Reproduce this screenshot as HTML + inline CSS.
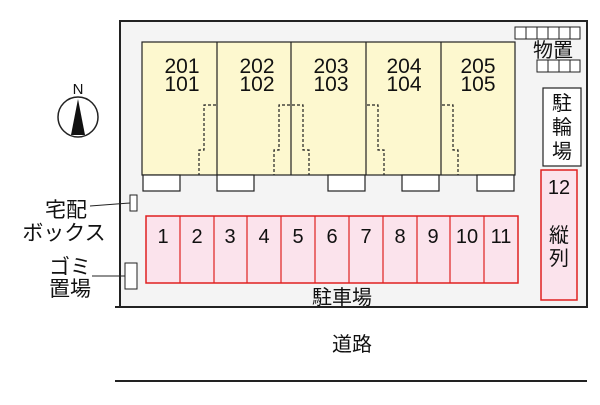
<!DOCTYPE html>
<html><head><meta charset="utf-8"><style>
body{margin:0;background:#fff}
svg text{font-family:"Liberation Sans","Noto Sans CJK JP",sans-serif;fill:#111}
</style></head><body>
<svg width="600" height="400" viewBox="0 0 600 400" xmlns="http://www.w3.org/2000/svg">
<rect x="120" y="21" width="467" height="286" fill="#f4f4f4" stroke="#222" stroke-width="2"/>
<line x1="115" y1="307" x2="587" y2="307" stroke="#222" stroke-width="2"/>
<line x1="115" y1="381" x2="587" y2="381" stroke="#222" stroke-width="2"/>
<rect x="142" y="42" width="373" height="133" fill="#fdf8cf" stroke="#222" stroke-width="1.2"/>
<g stroke="#222" stroke-width="1.2">
<line x1="217" y1="42" x2="217" y2="175"/><line x1="291" y1="42" x2="291" y2="175"/>
<line x1="366" y1="42" x2="366" y2="175"/><line x1="441" y1="42" x2="441" y2="175"/>
</g>
<g fill="none" stroke="#222" stroke-width="1.2" stroke-dasharray="3,2">
<path d="M216 105H204V150H199V175"/>
<path d="M290 105H279V150H274V175"/>
<path d="M292 105H303V150H309V175"/>
<path d="M367 105H378V150H384V175"/>
<path d="M442 105H453V150H458V175"/>
</g>
<g fill="#fff" stroke="#222" stroke-width="1.2">
<rect x="143" y="175" width="37" height="16"/><rect x="217" y="175" width="37" height="16"/>
<rect x="328" y="175" width="37" height="16"/><rect x="402" y="175" width="37" height="16"/>
<rect x="477" y="175" width="37" height="16"/>
</g>
<g font-size="21" text-anchor="middle">
<text x="182" y="73">201</text><text x="182" y="91">101</text>
<text x="257" y="73">202</text><text x="257" y="91">102</text>
<text x="331" y="73">203</text><text x="331" y="91">103</text>
<text x="404" y="73">204</text><text x="404" y="91">104</text>
<text x="478" y="73">205</text><text x="478" y="91">105</text>
</g>
<g fill="#fff" stroke="#222" stroke-width="1">
<rect x="515" y="27" width="11" height="12"/><rect x="526" y="27" width="11" height="12"/><rect x="537" y="27" width="11" height="12"/><rect x="548" y="27" width="11" height="12"/><rect x="559" y="27" width="11" height="12"/><rect x="570" y="27" width="10" height="12"/>
<rect x="537" y="60" width="11" height="12"/><rect x="548" y="60" width="11" height="12"/><rect x="559" y="60" width="11" height="12"/><rect x="570" y="60" width="10" height="12"/>
</g>
<text x="553" y="57" font-size="20" text-anchor="middle">物置</text>
<rect x="543" y="88" width="38" height="78" fill="#fff" stroke="#222" stroke-width="1.2"/>
<g font-size="20" text-anchor="middle"><text x="562" y="110">駐</text><text x="562" y="134">輪</text><text x="562" y="158">場</text></g>
<rect x="541" y="170" width="36" height="130" fill="#fbe3ec" stroke="#e02020" stroke-width="1.5"/>
<text x="559" y="194" font-size="20" text-anchor="middle">12</text>
<text x="559" y="242" font-size="20" text-anchor="middle">縦</text>
<text x="559" y="265" font-size="20" text-anchor="middle">列</text>
<rect x="146" y="216" width="372" height="67" fill="#fbe3ec" stroke="#e02020" stroke-width="1.5"/>
<g stroke="#e02020" stroke-width="1.2">
<line x1="180" y1="216" x2="180" y2="283"/><line x1="214" y1="216" x2="214" y2="283"/><line x1="247" y1="216" x2="247" y2="283"/><line x1="281" y1="216" x2="281" y2="283"/><line x1="315" y1="216" x2="315" y2="283"/><line x1="349" y1="216" x2="349" y2="283"/><line x1="383" y1="216" x2="383" y2="283"/><line x1="417" y1="216" x2="417" y2="283"/><line x1="450" y1="216" x2="450" y2="283"/><line x1="484" y1="216" x2="484" y2="283"/>
</g>
<g font-size="20" text-anchor="middle">
<text x="163" y="243">1</text><text x="197" y="243">2</text><text x="230" y="243">3</text><text x="264" y="243">4</text><text x="298" y="243">5</text><text x="332" y="243">6</text><text x="366" y="243">7</text><text x="400" y="243">8</text><text x="433" y="243">9</text><text x="467" y="243">10</text><text x="501" y="243">11</text>
</g>
<text x="342" y="304" font-size="20" text-anchor="middle">駐車場</text>
<text x="352" y="351" font-size="20" text-anchor="middle">道路</text>
<circle cx="78" cy="117" r="20" fill="#fff" stroke="#222" stroke-width="1.5"/>
<polygon points="78,99 71,135 85,135" fill="#111"/>
<text x="78" y="94" font-size="15" text-anchor="middle">N</text>
<rect x="130" y="195" width="7" height="16" fill="#fff" stroke="#222" stroke-width="1"/>
<line x1="90" y1="206" x2="130" y2="203" stroke="#222"/>
<text x="66" y="217" font-size="21" text-anchor="middle">宅配</text>
<text x="64" y="240" font-size="21" text-anchor="middle">ボックス</text>
<rect x="125" y="263" width="12" height="26" fill="#fff" stroke="#222" stroke-width="1"/>
<line x1="92" y1="276" x2="125" y2="276" stroke="#222"/>
<text x="70" y="274" font-size="21" text-anchor="middle">ゴミ</text>
<text x="70" y="296" font-size="21" text-anchor="middle">置場</text>
</svg>
</body></html>
